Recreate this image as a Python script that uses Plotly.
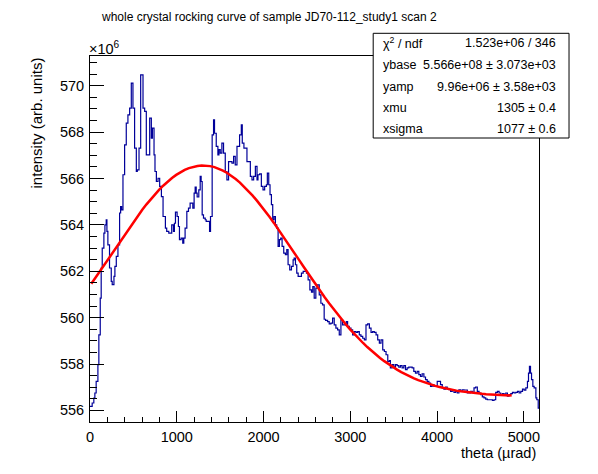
import numpy as np
import plotly.graph_objects as go

OUTPUT = "out.html"

# histogram: low edge of each step (theta, urad) and content (intensity, units of 1e6)
BIN_EDGES = [
    0, 25, 44, 56, 71, 91, 102, 118, 129, 141,
    160, 172, 187, 195, 206, 225, 245, 256, 276, 287,
    303, 322, 341, 353, 364, 380, 399, 418, 437, 457,
    476, 495, 514, 534, 545, 565, 584, 611, 630, 649,
    688, 707, 719, 738, 749, 765, 784, 803, 823, 842,
    869, 884, 908, 942, 962, 973, 985, 1004, 1019, 1031,
    1050, 1069, 1081, 1096, 1116, 1135, 1154, 1185, 1200, 1212,
    1224, 1235, 1254, 1270, 1281, 1293, 1308, 1328, 1339, 1378,
    1389, 1408, 1424, 1435, 1455, 1474, 1486, 1501, 1520, 1539,
    1559, 1578, 1597, 1636, 1655, 1674, 1694, 1724, 1744, 1755,
    1774, 1809, 1848, 1867, 1886, 1906, 1925, 1936, 1956, 1975,
    1994, 2013, 2033, 2044, 2060, 2075, 2091, 2106, 2121, 2137,
    2152, 2168, 2183, 2198, 2214, 2233, 2252, 2268, 2283, 2302,
    2322, 2341, 2353, 2368, 2383, 2399, 2437, 2457, 2495, 2514,
    2534, 2553, 2568, 2584, 2603, 2622, 2642, 2661, 2680, 2699,
    2715, 2738, 2757, 2777, 2796, 2815, 2834, 2854, 2873, 2892,
    2911, 2954, 2969, 2988, 3008, 3027, 3046, 3066, 3085, 3104,
    3123, 3143, 3162, 3181, 3200, 3220, 3239, 3258, 3277, 3297,
    3316, 3335, 3354, 3374, 3393, 3412, 3432, 3451, 3462, 3482,
    3501, 3520, 3540, 3559, 3578, 3597, 3617, 3636, 3655, 3674,
    3713, 3732, 3751, 3771, 3790, 3809, 3828, 3848, 3867, 3886,
    3906, 3925, 3944, 3963, 3983, 4002, 4040, 4060, 4079, 4098,
    4117, 4137, 4156, 4175, 4195, 4214, 4233, 4252, 4272, 4291,
    4310, 4349, 4387, 4407, 4426, 4445, 4464, 4484, 4503, 4522,
    4541, 4561, 4580, 4638, 4657, 4676, 4696, 4715, 4734, 4753,
    4773, 4792, 4811, 4830, 4850, 4869, 4888, 4907, 4927, 4946,
    4965, 4985, 5004, 5023, 5042, 5054, 5065, 5077, 5089, 5104,
    5119, 5139, 5150, 5166,
]
COUNTS = [
    556.17, 556.32, 556.53, 556.75, 557.25, 557.97, 559.26, 560.84, 562.14, 563.00,
    563.64, 564.00, 564.22, 563.72, 563.14, 562.14, 561.56, 561.42, 561.78, 562.21,
    562.64, 563.14, 564.51, 564.79, 564.65, 566.16, 567.45, 568.39, 568.74, 569.03,
    570.11, 569.03, 567.31, 566.30, 566.37, 567.31, 570.47, 569.03, 568.89, 567.02,
    568.60, 567.74, 568.17, 567.02, 566.30, 565.87, 566.01, 565.66, 565.22, 564.36,
    563.86, 563.72, 563.64, 564.00, 563.72, 564.07, 564.55, 564.36, 563.93, 563.36,
    563.43, 563.21, 563.43, 563.86, 564.58, 564.72, 564.94, 564.72, 565.37, 565.63,
    565.37, 565.20, 565.51, 566.09, 565.87, 564.43, 564.29, 564.22, 564.15, 563.72,
    564.36, 567.88, 568.53, 567.95, 567.38, 567.02, 567.24, 567.09, 567.52, 567.09,
    566.30, 565.94, 566.73, 566.66, 566.95, 566.59, 567.38, 567.88, 568.31, 567.52,
    567.31, 566.73, 566.09, 565.94, 566.09, 566.52, 565.94, 566.16, 566.20, 565.66,
    565.51, 565.66, 565.73, 566.23, 565.73, 565.30, 564.87, 564.22, 564.36, 564.00,
    563.86, 563.07, 563.36, 563.43, 563.07, 562.78, 562.71, 562.93, 562.28, 562.06,
    562.21, 562.49, 562.57, 562.28, 561.92, 561.78, 561.92, 561.99, 561.92, 561.63,
    561.20, 561.10, 561.34, 560.84, 561.27, 561.41, 560.98, 560.62, 560.55, 559.93,
    559.88, 559.83, 559.73, 559.76, 559.98, 559.69, 559.55, 559.47, 559.26, 559.90,
    559.69, 559.83, 559.62, 559.55, 559.47, 559.26, 559.40, 559.36, 559.40, 559.26,
    559.19, 559.11, 559.04, 559.69, 559.73, 559.55, 559.36, 559.40, 559.36, 559.26,
    559.04, 558.90, 559.04, 558.61, 558.54, 558.40, 558.11, 558.15, 557.83, 557.97,
    557.87, 557.97, 557.93, 557.87, 557.93, 557.83, 557.93, 557.76, 557.83, 557.87,
    557.83, 557.68, 557.61, 557.68, 557.54, 557.47, 557.58, 557.44, 557.33, 557.25,
    557.18, 557.04, 557.11, 557.04, 557.07, 557.25, 557.11, 556.97, 556.92, 557.01,
    556.92, 556.89, 556.82, 556.89, 556.78, 556.82, 556.75, 556.89, 556.82, 556.89,
    556.88, 556.75, 556.82, 556.78, 556.97, 557.01, 556.82, 556.75, 556.68, 556.58,
    556.54, 556.49, 556.46, 556.43, 556.46, 556.78, 556.82, 556.75, 556.68, 556.72,
    556.68, 556.75, 556.61, 556.68, 556.72, 556.78, 556.75, 556.78, 556.82, 556.75,
    556.82, 556.92, 556.87, 556.97, 557.25, 557.61, 557.90, 557.61, 557.33, 557.04,
    556.97, 556.54, 556.46, 556.10,
]
X_MAX = 5175

# fit: ybase + yamp * gaus(xmu, xsigma), intensity in units of 1e6
YBASE = 556.6
YAMP = 9.96
XMU = 1305
XSIGMA = 1077
FIT_RANGE = (15, 4860)

STAT_LABELS = ["χ<sup>2</sup> / ndf", "ybase", "yamp", "xmu", "xsigma"]
STAT_VALUES = ["1.523e+06 / 346", "5.566e+08 ± 3.073e+03", "9.96e+06 ± 3.58e+03",
               "1305 ± 0.4", "1077 ± 0.6"]

TITLE = "whole crystal rocking curve of sample JD70-112_study1 scan 2"

W, H = 598, 474
FRAME_L, FRAME_R, FRAME_T, FRAME_B = 90, 538.7, 56, 422
FONT = "Liberation Sans, Arial, sans-serif"


def px(x):
    return (x - FRAME_L) / (FRAME_R - FRAME_L)


def py(y):
    return (FRAME_B - y) / (FRAME_B - FRAME_T)


def main():
    fig = go.Figure()

    fig.add_trace(go.Scatter(
        x=BIN_EDGES + [X_MAX], y=COUNTS + [COUNTS[-1]],
        mode="lines", line=dict(color="#000099", width=1.2, shape="hv"),
        showlegend=False, hoverinfo="skip",
    ))

    fx = np.linspace(FIT_RANGE[0], FIT_RANGE[1], 100)
    fy = YBASE + YAMP * np.exp(-0.5 * ((fx - XMU) / XSIGMA) ** 2)
    fig.add_trace(go.Scatter(
        x=fx, y=fy, mode="lines", line=dict(color="#ff0000", width=2.5),
        showlegend=False, hoverinfo="skip",
    ))

    # stats box
    box_l, box_r, box_t, box_b = 373, 568.7, 33.3, 138
    fig.add_shape(type="rect", xref="paper", yref="paper",
                  x0=px(box_l), x1=px(box_r), y0=py(box_b), y1=py(box_t),
                  line=dict(color="black", width=1), fillcolor="white", layer="above")
    row_y = [43.5, 65, 86.7, 108.3, 129]
    for lab, val, ry in zip(STAT_LABELS, STAT_VALUES, row_y):
        fig.add_annotation(x=px(381), y=py(ry), xref="paper", yref="paper", text=lab,
                           showarrow=False, xanchor="left", yanchor="middle",
                           font=dict(size=12.5, color="black", family=FONT))
        fig.add_annotation(x=px(558), y=py(ry), xref="paper", yref="paper", text=val,
                           showarrow=False, xanchor="right", yanchor="middle",
                           font=dict(size=12.5, color="black", family=FONT))

    fig.add_annotation(x=px(269), y=py(17), xref="paper", yref="paper", text=TITLE,
                       showarrow=False, xanchor="center", yanchor="middle",
                       font=dict(size=12, color="black", family=FONT))
    fig.add_annotation(x=px(87), y=py(48), xref="paper", yref="paper",
                       text="×10<sup>6</sup>", showarrow=False,
                       xanchor="left", yanchor="middle",
                       font=dict(size=14.5, color="black", family=FONT))
    fig.add_annotation(x=px(37), y=py(55), xref="paper", yref="paper",
                       text="intensity (arb. units)", textangle=-90, showarrow=False,
                       xanchor="center", yanchor="top",
                       font=dict(size=15, color="black", family=FONT))
    fig.add_annotation(x=px(538), y=py(453), xref="paper", yref="paper",
                       text="theta (µrad)", showarrow=False,
                       xanchor="right", yanchor="middle",
                       font=dict(size=14.5, color="black", family=FONT))

    fig.update_layout(
        width=W, height=H,
        margin=dict(l=FRAME_L, r=W - FRAME_R, t=FRAME_T, b=H - FRAME_B, pad=0),
        plot_bgcolor="white", paper_bgcolor="white",
        font=dict(family=FONT, size=14.5, color="black"),
        xaxis=dict(range=[0, X_MAX], showgrid=False, zeroline=False,
                   showline=True, linecolor="black", linewidth=1, mirror=True,
                   ticks="inside", ticklen=11, tickcolor="black", dtick=1000, tick0=0,
                   minor=dict(ticks="inside", ticklen=5.5, dtick=200, tickcolor="black"),
                   ticklabelstandoff=2),
        yaxis=dict(range=[555.5, 571.28], showgrid=False, zeroline=False,
                   showline=True, linecolor="black", linewidth=1, mirror=True,
                   ticks="inside", ticklen=13.5, tickcolor="black", dtick=2, tick0=556,
                   minor=dict(ticks="inside", ticklen=7, dtick=0.5, tickcolor="black"),
                   ticklabelstandoff=2),
    )

    # drop the default page margin so the figure sits at the window's corner
    fig.write_html(OUTPUT, config={"displayModeBar": False},
                   post_script="document.body.style.margin='0';")


if __name__ == "__main__":
    main()
